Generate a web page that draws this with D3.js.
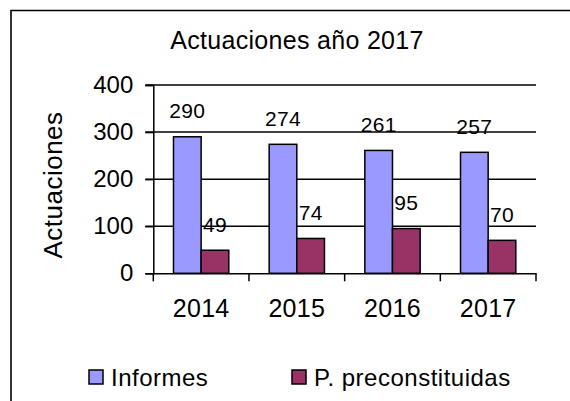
<!DOCTYPE html>
<html>
<head>
<meta charset="utf-8">
<script src="https://cdn.jsdelivr.net/npm/d3@7"></script>
<style>
  body { margin: 0; background: #fff; }
  text { font-family: 'Liberation Sans', Arial, sans-serif; fill: #000; }
</style>
</head>
<body>
<div id="graf"></div>
<script>
// Datos de la gráfica
anios = ['2014', '2015', '2016', '2017']
series = ['Informes', 'P. preconstituidas']
informes = [290, 274, 261, 257]
preconstituidas = [49, 74, 95, 70]
yTicks = [0, 100, 200, 300, 400]

colores = ['#9999ff', '#993366']

ancho_total = 570
alto_total = 401

svg = d3.select('#graf').append('svg')
        .attr('width', ancho_total)
        .attr('height', alto_total)

// marco exterior (solo se ven los lados superior e izquierdo)
svg.append('path')
   .attr('d', 'M11,401 L11,10.5 L570,10.5')
   .attr('fill', 'none')
   .attr('stroke', '#000')
   .attr('stroke-width', 1.6)

// área del gráfico
plot = { left: 153.3, right: 536, top: 85, bottom: 273.3 }

y = d3.scaleLinear()
      .domain([0, 400])
      .range([plot.bottom, plot.top])

x = d3.scaleBand()
      .domain(anios)
      .range([plot.left, plot.right])

xSerie = d3.scaleBand()
           .domain(series)
           .range([0, x.bandwidth()])
           .paddingOuter(0.73)

// líneas de división horizontales
svg.append('g')
   .selectAll('line')
   .data(yTicks.slice(1))
   .join('line')
     .attr('x1', plot.left - 8)
     .attr('x2', plot.right)
     .attr('y1', d => y(d))
     .attr('y2', d => y(d))
     .attr('stroke', '#000')
     .attr('stroke-width', 1.5)

// eje Y
yAxisGroup = svg.append('g')
                .attr('transform', `translate(${plot.left}, 0)`)
yAxisGroup.call(d3.axisLeft(y).tickValues(yTicks).tickSize(8).tickPadding(12))
yAxisGroup.select('.domain').attr('stroke-width', 1.5)
yAxisGroup.selectAll('.tick line').attr('stroke-width', 1.5)
yAxisGroup.selectAll('.tick text')
          .attr('font-size', '24px')
          .attr('font-family', null)

// barras
grupos = svg.append('g')
            .selectAll('g')
            .data(anios)
            .join('g')
              .attr('transform', d => `translate(${x(d)}, 0)`)

valores = [informes, preconstituidas]

grupos.selectAll('rect')
      .data((d, i) => series.map((s, j) => ({ serie: s, valor: valores[j][i] })))
      .join('rect')
        .attr('x', d => xSerie(d.serie))
        .attr('y', d => y(d.valor))
        .attr('width', xSerie.bandwidth())
        .attr('height', d => y(0) - y(d.valor))
        .attr('fill', (d, j) => colores[j])
        .attr('stroke', '#000')
        .attr('stroke-width', 1.5)

// etiquetas de datos
grupos.selectAll('text')
      .data((d, i) => series.map((s, j) => ({ serie: s, valor: valores[j][i] })))
      .join('text')
        .attr('x', d => xSerie(d.serie) + xSerie.bandwidth() / 2)
        .attr('y', d => y(d.valor) - 18.5)
        .attr('text-anchor', 'middle')
        .attr('font-size', '21px')
        .attr('letter-spacing', '0.3px')
        .text(d => d.valor)

// eje X
xAxisGroup = svg.append('g')
                .attr('transform', `translate(0, ${plot.bottom})`)
xAxisGroup.call(d3.axisBottom(x).tickSize(0).tickPadding(26))
xAxisGroup.select('.domain').attr('stroke-width', 1.5)
xAxisGroup.selectAll('.tick text')
          .attr('font-size', '25px')
          .attr('letter-spacing', '0.3px')
          .attr('font-family', null)
          .attr('dy', '0.72em')

// marcas entre categorías
xAxisGroup.selectAll('.sep')
          .data(anios.concat(['fin']))
          .join('line')
            .attr('class', 'sep')
            .attr('x1', (d, i) => i < anios.length ? x(d) : plot.right)
            .attr('x2', (d, i) => i < anios.length ? x(d) : plot.right)
            .attr('y1', 0)
            .attr('y2', 8)
            .attr('stroke', '#000')
            .attr('stroke-width', 1.5)

// título
svg.append('text')
   .attr('x', 297)
   .attr('y', 49)
   .attr('text-anchor', 'middle')
   .attr('font-size', '25px')
   .attr('letter-spacing', '0.3px')
   .text('Actuaciones año 2017')

// título del eje Y
svg.append('text')
   .attr('transform', 'translate(61.5, 185) rotate(-90)')
   .attr('text-anchor', 'middle')
   .attr('font-size', '26px')
   .attr('letter-spacing', '0.5px')
   .text('Actuaciones')

// leyenda
leyendaX = [89, 292]
leyenda = svg.append('g')
             .selectAll('g')
             .data(series)
             .join('g')
               .attr('transform', (d, i) => `translate(${leyendaX[i]}, 370)`)

leyenda.append('rect')
       .attr('width', 14)
       .attr('height', 14)
       .attr('fill', (d, i) => colores[i])
       .attr('stroke', '#000')
       .attr('stroke-width', 1.5)

leyenda.append('text')
       .attr('x', 22)
       .attr('y', 16)
       .attr('font-size', '24px')
       .attr('letter-spacing', '0.5px')
       .text(d => d)
</script>
</body>
</html>
